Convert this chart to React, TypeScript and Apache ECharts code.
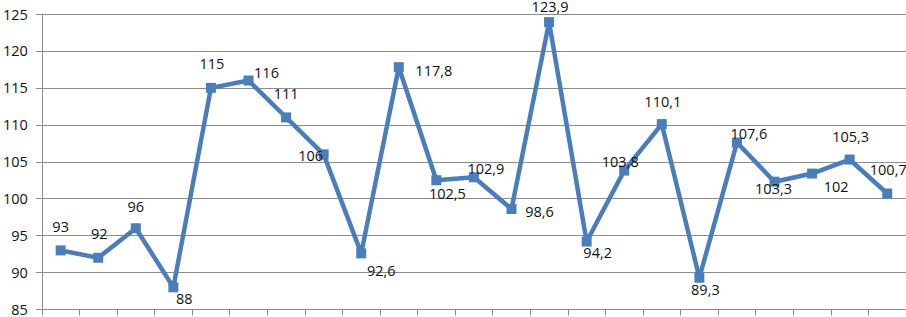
import React, { useEffect, useRef } from "react";
import * as echarts from "echarts";

const categories = ["1", "2", "3", "4", "5", "6", "7", "8", "9", "10", "11", "12", "13", "14", "15", "16", "17", "18", "19", "20", "21", "22", "23"];
const values = [93, 92, 96, 88, 115, 116, 111, 106, 92.6, 117.8, 102.5, 102.9, 98.6, 123.9, 94.2, 103.8, 110.1, 89.3, 107.6, 102.3, 103.4, 105.3, 100.7];
const labelTexts = ["93", "92", "96", "88", "115", "116", "111", "106", "92,6", "117,8", "102,5", "102,9", "98,6", "123,9", "94,2", "103,8", "110,1", "89,3", "107,6", "103,3", "102", "105,3", "100,7"];
const yTicks = { min: 85, max: 125, interval: 5 };

// label offsets relative to each marker (layout, not data)
const labelOffsets: [number, number][] = [
  [0, -24], [1, -24], [0, -22], [11, 11], [1, -24], [18, -8], [0, -24], [-13, 1],
  [20, 17], [35, 3], [11, 13], [12, -9], [28, 2], [1, -16], [11, 11], [-4, -9],
  [1, -23], [6, 12], [12, -9], [-1, 7], [24, 13], [1, -23], [1, -24],
];

const FONT = "'Open Sans', 'Liberation Sans', sans-serif";

export default function App() {
  const ref = useRef<HTMLDivElement>(null);
  useEffect(() => {
    if (!ref.current) return;
    const chart = echarts.init(ref.current, null, { renderer: "svg" });
    chart.setOption({
      animation: false,
      backgroundColor: "#ffffff",
      grid: { left: 40, right: 0, top: 14, bottom: 6, containLabel: false },
      xAxis: {
        type: "category",
        data: categories,
        boundaryGap: true,
        axisLine: { show: true, lineStyle: { color: "#8c8c8c", width: 1 } },
        axisTick: { show: true, length: 6, lineStyle: { color: "#8c8c8c", width: 1 } },
        axisLabel: { show: false },
        splitLine: { show: false },
      },
      yAxis: {
        type: "value",
        min: yTicks.min,
        max: yTicks.max,
        interval: yTicks.interval,
        axisLine: { show: true, lineStyle: { color: "#8c8c8c", width: 1 } },
        axisTick: { show: true, length: 6, lineStyle: { color: "#8c8c8c", width: 1 } },
        axisLabel: { color: "#111", fontSize: 14.5, fontFamily: FONT, margin: 14 },
        splitLine: { show: true, lineStyle: { color: "#8c8c8c", width: 1 } },
      },
      series: [
        {
          type: "line",
          data: values.map((v, i) => ({
            value: v,
            label: {
              show: true,
              position: "inside",
              offset: labelOffsets[i],
              formatter: labelTexts[i],
            },
          })),
          symbol: "rect",
          symbolSize: 10,
          lineStyle: { color: "#4a7ebb", width: 4.5 },
          itemStyle: { color: "#4a7ebb" },
          label: {
            show: true,
            color: "#111",
            fontSize: 14.5,
            fontFamily: FONT,
            align: "center",
            verticalAlign: "middle",
          },
          z: 3,
        },
      ],
    });
    return () => chart.dispose();
  }, []);
  return (
    <div
      ref={ref}
      style={{ position: "fixed", left: 0, top: 0, width: 906, height: 317, background: "#fff" }}
    />
  );
}
